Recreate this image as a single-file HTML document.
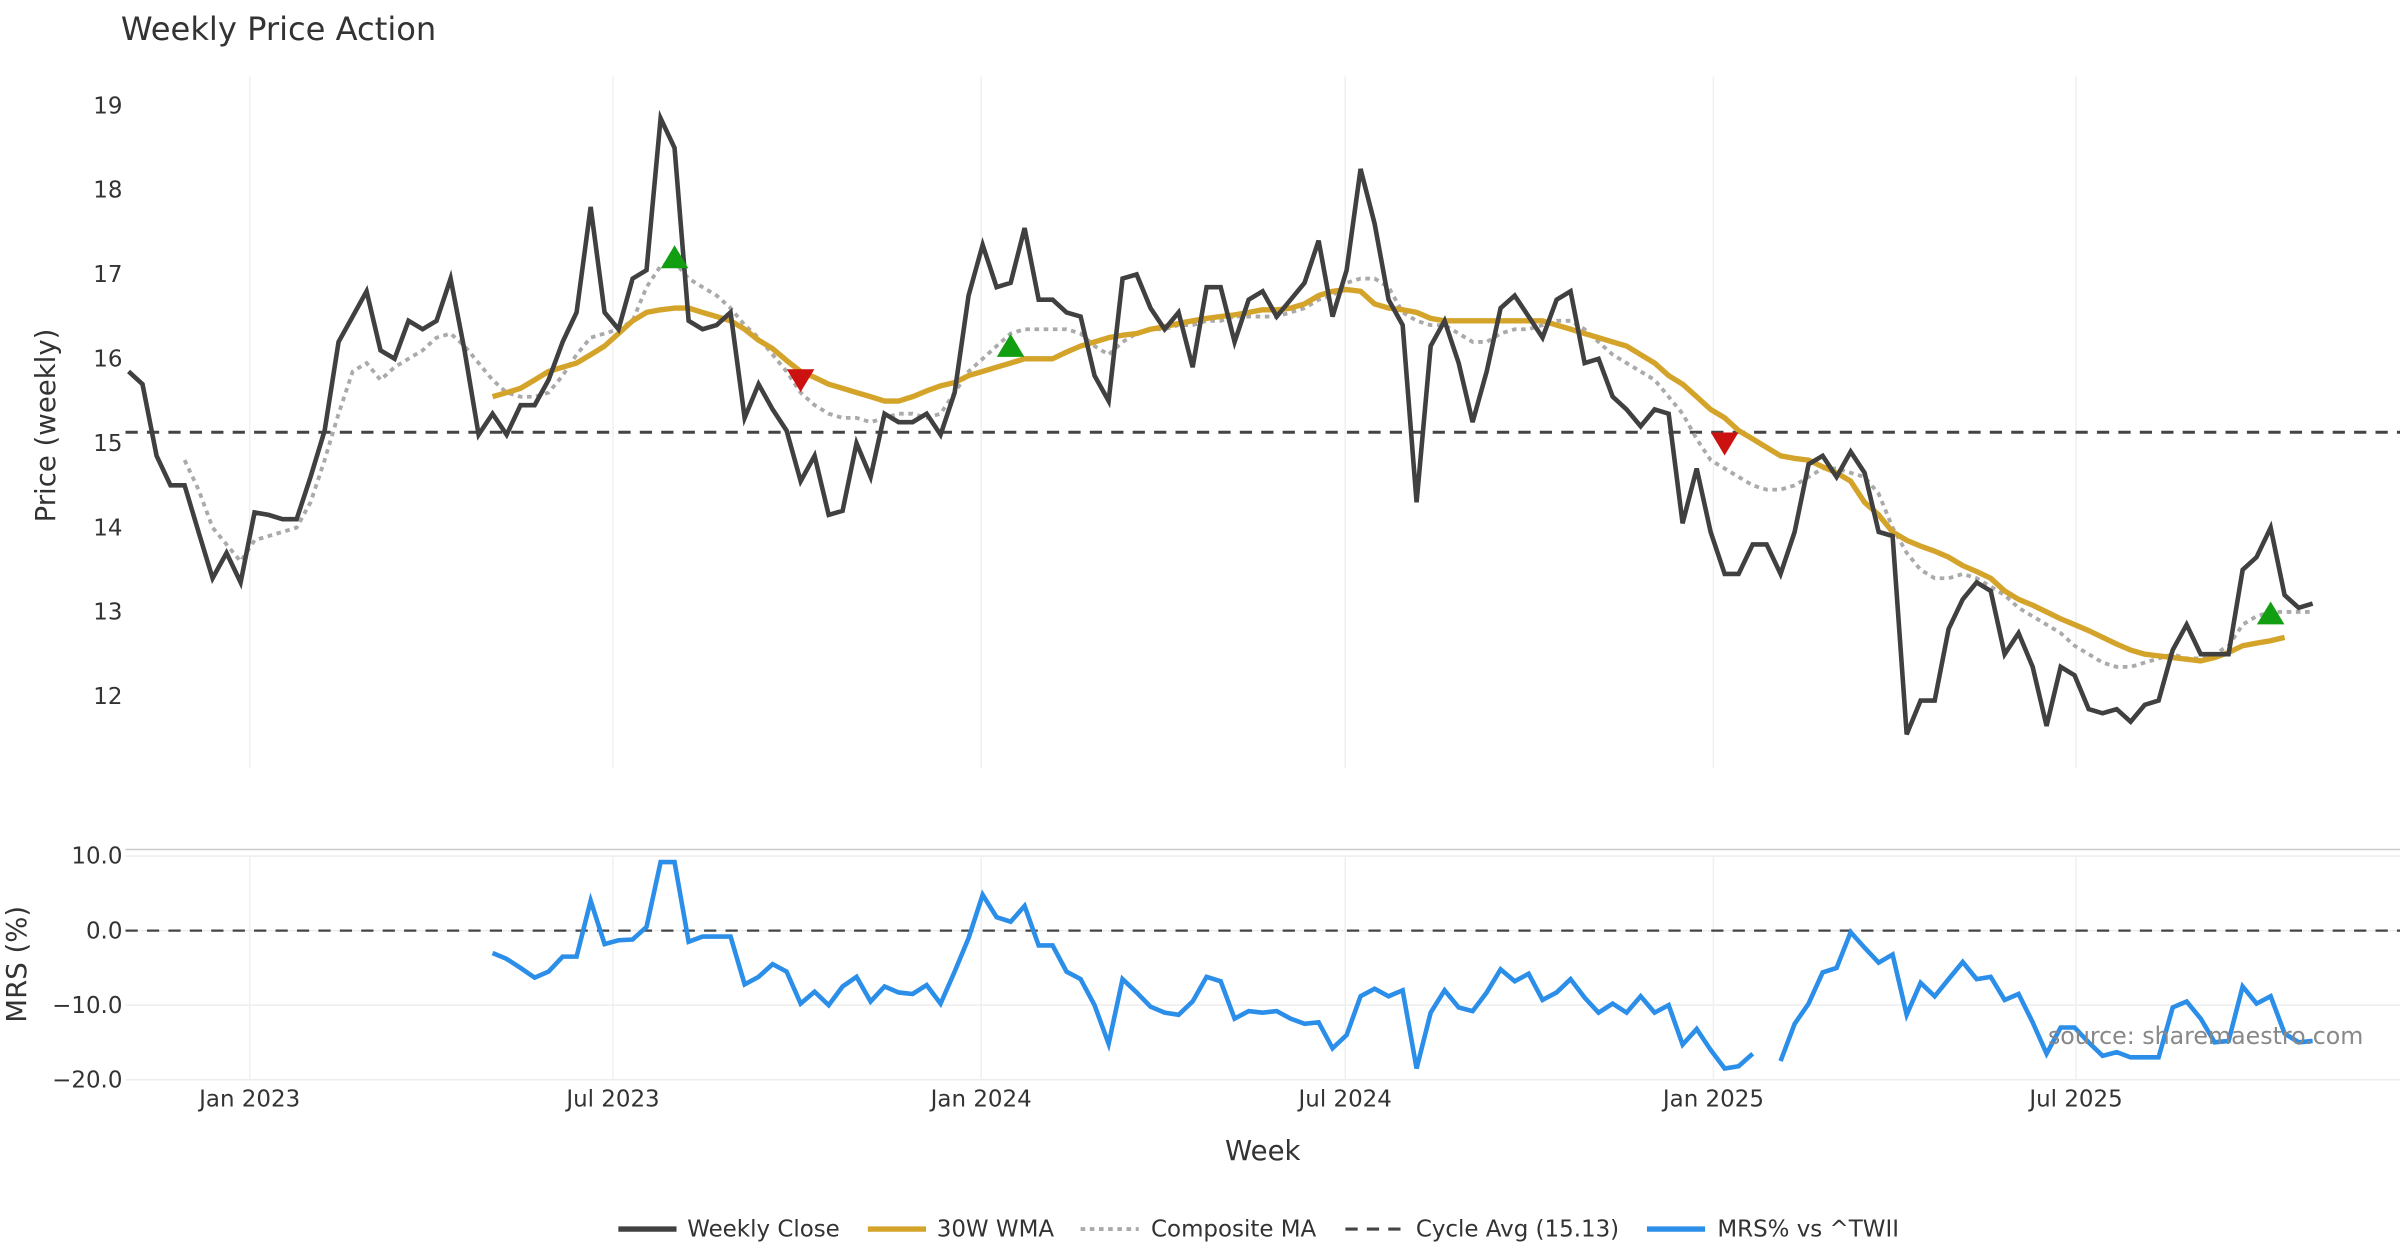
<!DOCTYPE html>
<html><head><meta charset="utf-8"><style>
html,body{margin:0;padding:0;background:#fff;}
svg{display:block;font-family:"DejaVu Sans","Liberation Sans",sans-serif;}
</style></head><body>
<svg id="chart" width="2400" height="1260" viewBox="0 0 1568 823.2" preserveAspectRatio="none" xmlns="http://www.w3.org/2000/svg">
<rect width="1568" height="823.2" fill="#fff"/>
<text x="79" y="26" font-size="21" fill="#333">Weekly Price Action</text>
<g id="grid"></g>
<g id="axes"></g>
<g id="series"></g>
<text transform="translate(36,278) rotate(-90)" text-anchor="middle" font-size="18" fill="#333">Price (weekly)</text>
<text transform="translate(17,630) rotate(-90)" text-anchor="middle" font-size="18" fill="#333">MRS (%)</text>
<text x="825" y="758" text-anchor="middle" font-size="18" fill="#333">Week</text>
<text x="1338" y="682" font-size="15.5" fill="#888">source: sharemaestro.com</text>
<g font-size="15" fill="#333">
<line x1="404" y1="803" x2="442" y2="803" stroke="#404040" stroke-width="3.5"/><text x="449" y="808">Weekly Close</text>
<line x1="567" y1="803" x2="605" y2="803" stroke="#d4a32a" stroke-width="3.5"/><text x="612" y="808">30W WMA</text>
<line x1="706" y1="803" x2="744" y2="803" stroke="#aaa" stroke-width="2.5" stroke-dasharray="3,3"/><text x="752" y="808">Composite MA</text>
<line x1="879" y1="803" x2="917" y2="803" stroke="#444" stroke-width="2" stroke-dasharray="8,6"/><text x="925" y="808">Cycle Avg (15.13)</text>
<line x1="1076" y1="803" x2="1114" y2="803" stroke="#2b8ee8" stroke-width="3.5"/><text x="1122" y="808">MRS% vs ^TWII</text>
</g>
</svg>
<script>
const closeVals=[15.85,15.7,14.85,14.5,14.5,13.95,13.4,13.7,13.35,14.18,14.15,14.1,14.1,14.6,15.15,16.2,16.5,16.8,16.1,16.0,16.45,16.35,16.45,16.95,16.1,15.1,15.35,15.1,15.45,15.45,15.75,16.2,16.55,17.8,16.55,16.35,16.95,17.05,18.85,18.5,16.45,16.35,16.4,16.55,15.3,15.7,15.4,15.15,14.55,14.85,14.15,14.2,15.0,14.6,15.35,15.25,15.25,15.35,15.1,15.6,16.75,17.35,16.85,16.9,17.55,16.7,16.7,16.55,16.5,15.8,15.5,16.95,17.0,16.6,16.35,16.55,15.9,16.85,16.85,16.2,16.7,16.8,16.5,16.7,16.9,17.4,16.5,17.05,18.25,17.6,16.7,16.4,14.3,16.15,16.45,15.95,15.25,15.85,16.6,16.75,16.5,16.25,16.7,16.8,15.95,16.0,15.55,15.4,15.2,15.4,15.35,14.05,14.7,13.95,13.45,13.45,13.8,13.8,13.45,13.95,14.75,14.85,14.6,14.9,14.65,13.95,13.9,11.55,11.95,11.95,12.8,13.15,13.35,13.25,12.5,12.75,12.35,11.65,12.35,12.25,11.85,11.8,11.85,11.7,11.9,11.95,12.55,12.85,12.5,12.5,12.5,13.5,13.65,14.0,13.2,13.05,13.1];
const compStart=4;
const compVals=[14.8,14.45,14.0,13.8,13.6,13.85,13.9,13.95,14.0,14.3,14.8,15.35,15.85,15.95,15.75,15.9,16.0,16.1,16.25,16.3,16.15,15.95,15.75,15.6,15.55,15.55,15.6,15.8,16.05,16.25,16.3,16.35,16.45,16.85,17.1,17.15,16.95,16.85,16.75,16.6,16.4,16.25,16.05,15.85,15.6,15.45,15.35,15.3,15.3,15.25,15.3,15.35,15.35,15.3,15.35,15.6,15.85,16.0,16.15,16.3,16.35,16.35,16.35,16.35,16.3,16.15,16.05,16.2,16.3,16.35,16.35,16.4,16.4,16.45,16.45,16.5,16.5,16.5,16.5,16.55,16.6,16.7,16.75,16.9,16.95,16.95,16.85,16.55,16.45,16.4,16.4,16.3,16.2,16.2,16.3,16.35,16.35,16.4,16.45,16.45,16.35,16.2,16.05,15.95,15.85,15.75,15.55,15.35,15.05,14.8,14.7,14.6,14.5,14.45,14.45,14.5,14.6,14.7,14.7,14.65,14.6,14.4,14.0,13.7,13.5,13.4,13.4,13.45,13.4,13.3,13.2,13.05,12.95,12.85,12.75,12.6,12.5,12.4,12.35,12.35,12.4,12.45,12.5,12.45,12.45,12.5,12.6,12.85,12.95,13.0,13.0,13.0,13.0];
const wmaStart=26;
const wmaVals=[15.55,15.6,15.65,15.75,15.85,15.9,15.95,16.05,16.15,16.3,16.45,16.55,16.58,16.6,16.6,16.55,16.5,16.45,16.35,16.22,16.12,15.98,15.85,15.78,15.7,15.65,15.6,15.55,15.5,15.5,15.55,15.62,15.68,15.72,15.8,15.85,15.9,15.95,16.0,16.0,16.0,16.08,16.15,16.2,16.25,16.28,16.3,16.35,16.38,16.42,16.45,16.48,16.5,16.52,16.55,16.58,16.58,16.6,16.65,16.75,16.8,16.82,16.8,16.65,16.6,16.58,16.55,16.48,16.45,16.45,16.45,16.45,16.45,16.45,16.45,16.45,16.4,16.35,16.3,16.25,16.2,16.15,16.05,15.95,15.8,15.7,15.55,15.4,15.3,15.15,15.05,14.95,14.85,14.82,14.8,14.72,14.65,14.55,14.3,14.15,13.95,13.85,13.78,13.72,13.65,13.55,13.48,13.4,13.25,13.15,13.08,13.0,12.92,12.85,12.78,12.7,12.62,12.55,12.5,12.48,12.46,12.44,12.42,12.46,12.52,12.6,12.63,12.66,12.7];
const mrsStart=26;
const mrsVals=[-3,-3.8,-5,-6.3,-5.5,-3.5,-3.5,4,-1.8,-1.3,-1.2,0.5,9.2,9.2,-1.5,-0.8,-0.8,-0.8,-7.2,-6.2,-4.5,-5.5,-9.8,-8.2,-10,-7.5,-6.2,-9.5,-7.5,-8.3,-8.5,-7.3,-9.8,-5.5,-1,4.8,1.8,1.2,3.3,-2,-2,-5.5,-6.5,-10,-15.2,-6.5,-8.3,-10.2,-11,-11.3,-9.5,-6.2,-6.8,-11.8,-10.8,-11,-10.8,-11.8,-12.5,-12.3,-15.8,-14,-8.8,-7.8,-8.8,-8,-18.5,-11,-8,-10.3,-10.8,-8.3,-5.2,-6.8,-5.8,-9.3,-8.3,-6.5,-9,-11,-9.8,-11,-8.8,-11,-10,-15.3,-13.2,-16,-18.5,-18.2,-16.5,null,-17.5,-12.5,-9.8,-5.6,-5,-0.2,-2.3,-4.3,-3.2,-11.3,-7,-8.8,-6.5,-4.2,-6.5,-6.2,-9.3,-8.5,-12.3,-16.5,-13,-13,-15,-16.8,-16.3,-17,-17,-17,-10.3,-9.5,-11.8,-15,-14.8,-7.5,-9.8,-8.8,-13.8,-15,-14.8];
const buyIdx=[39,63,153];
const buyVals=[17.2,16.15,12.98];
const sellIdx=[48,114];
const sellVals=[15.75,15.0];
const cycleAvg=15.13;
const priceTicks=[12,13,14,15,16,17,18,19];
const mrsTicks=[10,0,-10,-20];
const mrsTickLabels=["10.0","0.0","\u221210.0","\u221220.0"];
const dateLabels=["Jan 2023","Jul 2023","Jan 2024","Jul 2024","Jan 2025","Jul 2025"];
const dateIdx=[8.65,34.6,60.9,86.9,113.2,139.1];

const NS="http://www.w3.org/2000/svg";
const X=i=>84+i*9.147;
const Y=v=>69+(19-v)*55.14;
const YM=v=>608-v*4.87;
function mk(tag,attrs,parent,txt){const e=document.createElementNS(NS,tag);for(const k in attrs)e.setAttribute(k,attrs[k]);if(txt!==undefined)e.textContent=txt;parent.appendChild(e);return e;}
const grid=document.getElementById('grid'),axes=document.getElementById('axes'),ser=document.getElementById('series');
dateIdx.forEach((d,k)=>{
  const l=mk('line',{x1:X(d),x2:X(d),y1:50,y2:502,stroke:'#f0f0f0','stroke-width':1},grid);
  
  
  const l2=mk('line',{x1:X(d),x2:X(d),y1:560,y2:705,stroke:'#f0f0f0','stroke-width':1},grid);
  
  
  const t=mk('text',{x:X(d),y:723,'text-anchor':'middle','font-size':15,fill:'#333'},axes,dateLabels[k]);
  
  
});
priceTicks.forEach(v=>{
  const t=mk('text',{x:80,y:Y(v)+5,'text-anchor':'end','font-size':15,fill:'#333'},axes,String(v));
  
  
});
mk('line',{x1:82,x2:1568,y1:555,y2:555,stroke:'#ccc','stroke-width':1},axes);
mrsTicks.forEach((v,k)=>{
  const g=mk('line',{x1:82,x2:1568,y1:YM(v),y2:YM(v),stroke:'#eee','stroke-width':1},grid);
  
  
  const t=mk('text',{x:80,y:YM(v)+5,'text-anchor':'end','font-size':15,fill:'#333'},axes,mrsTickLabels[k]);
  
  
});
const cyc=mk('line',{x1:82,x2:1568,y1:Y(cycleAvg),y2:Y(cycleAvg),stroke:'#444','stroke-width':2,'stroke-dasharray':'8,6'},ser);


const zl=mk('line',{x1:82,x2:1568,y1:YM(0),y2:YM(0),stroke:'#444','stroke-width':1.5,'stroke-dasharray':'8,6'},ser);


function path(vals,start,yf){let d='',pen=false;vals.forEach((v,i)=>{if(v===null){pen=false;return;}d+=(pen?'L':'M')+X(start+i).toFixed(1)+','+yf(v).toFixed(1);pen=true;});return d;}
const cp=mk('path',{d:path(compVals,compStart,Y),fill:'none',stroke:'#aaa','stroke-width':2.5,'stroke-dasharray':'3,3'},ser);


const wp=mk('path',{d:path(wmaVals,wmaStart,Y),fill:'none',stroke:'#d4a32a','stroke-width':3.5,'stroke-linejoin':'round'},ser);


const clp=mk('path',{d:path(closeVals,0,Y),fill:'none',stroke:'#404040','stroke-width':3,'stroke-linejoin':'miter'},ser);


const mp=mk('path',{d:path(mrsVals,mrsStart,YM),fill:'none',stroke:'#2b8ee8','stroke-width':3},ser);


buyIdx.forEach((i,k)=>{const x=X(i),y=Y(buyVals[k]);
  const t=mk('polygon',{points:`${x-9},${y+7} ${x+9},${y+7} ${x},${y-8}`,fill:'#119e11'},ser);
  
  });
sellIdx.forEach((i,k)=>{const x=X(i),y=Y(sellVals[k]);
  const t=mk('polygon',{points:`${x-9},${y-7} ${x+9},${y-7} ${x},${y+8}`,fill:'#cc1111'},ser);
  
  });
</script>
</body></html>
